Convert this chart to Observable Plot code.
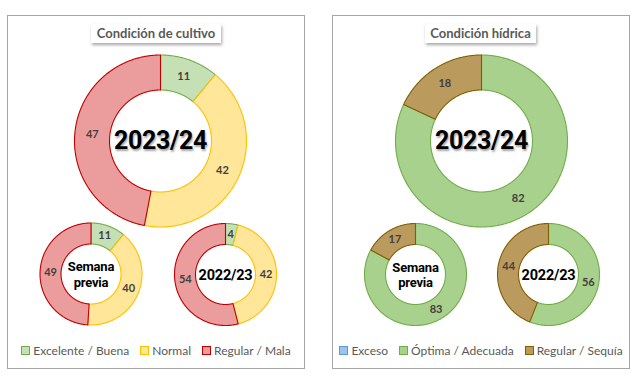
<!DOCTYPE html>
<html><head><meta charset="utf-8">
<script src="https://cdn.jsdelivr.net/npm/d3@7"></script>
<script src="https://cdn.jsdelivr.net/npm/@observablehq/plot@0.6"></script>
<style>
html,body{margin:0;padding:0;background:#fff;}
body{width:638px;height:377px;position:relative;overflow:hidden;font-family:Lato,"Open Sans",sans-serif;}
.panel{position:absolute;top:15px;width:296px;height:352px;border:1px solid #a6a6a6;background:#fff;}
.panel svg{position:absolute;left:0;top:0;}
.title{position:absolute;top:8px;height:19px;line-height:19px;background:#fff;color:#595959;font-weight:700;font-size:13px;text-align:center;box-shadow:1px 2px 3px rgba(0,0,0,0.35);white-space:nowrap;z-index:2;}
.legend{position:absolute;left:0;right:0;top:327px;display:flex;justify-content:center;gap:11px;font-size:12px;color:#595959;z-index:2;}
.legend span.item{display:flex;align-items:center;white-space:nowrap;}
.legend span.sw{display:inline-block;width:7px;height:7px;margin-right:3px;border:1px solid;}
.center-big{text-shadow:1px 2px 2px rgba(0,0,0,0.35);letter-spacing:-0.3px;}
.center-small{letter-spacing:-0.2px;}
</style>
</head><body>
<div id="p1" class="panel" style="left:7px"></div>
<div id="p2" class="panel" style="left:332px"></div>
<script>
// ---- data ----
const periods = ["2023/24", "Semana previa", "2022/23"];
const cultivoCats = ["Excelente / Buena", "Normal", "Regular / Mala"];
const cultivoExcelente = [11, 11, 4];
const cultivoNormal = [42, 40, 42];
const cultivoRegular = [47, 49, 54];
const hidricaCats = ["Exceso", "Óptima / Adecuada", "Regular / Sequía"];
const hidricaExceso = [0, 0, 0];
const hidricaOptima = [82, 83, 56];
const hidricaSequia = [18, 17, 44];

// ---- styles ----
const cultivoFill = ["#c5e0b4", "#ffe699", "#eb9c9c"];
const cultivoStroke = ["#70ad47", "#ffc000", "#c00000"];
const hidricaFill = ["#9dc3e6", "#a9d18e", "#bb9a5e"];
const hidricaStroke = ["#5b9bd5", "#70ad47", "#7f6000"];

const W = 296, H = 352;
// layout: donut centers and radii inside each panel (pixel units)
const layoutLeft = [
  {cx: 152, cy: 124.5, r0: 51, r1: 86, font: 25},
  {cx: 82.5, cy: 257.5, r0: 30, r1: 51, font: 13},
  {cx: 217, cy: 258, r0: 30, r1: 51, font: 14.5}
];
const layoutRight = [
  {cx: 148, cy: 124.5, r0: 51, r1: 86, font: 25},
  {cx: 82, cy: 258, r0: 30, r1: 51, font: 13},
  {cx: 215, cy: 258, r0: 30, r1: 51, font: 14.5}
];

function buildDonuts(series, layout) {
  const polys = [], labels = [], centers = [];
  periods.forEach((p, i) => {
    const L = layout[i];
    const vals = series.map(s => s[i]);
    const total = d3.sum(vals);
    let acc = 0;
    vals.forEach((v, k) => {
      const a0 = acc / total * 2 * Math.PI;
      acc += v;
      const a1 = acc / total * 2 * Math.PI;
      if (v <= 0) return;
      const n = Math.max(2, Math.ceil((a1 - a0) / 0.01));
      const id = p + "-" + k;
      for (let j = 0; j <= n; j++) {
        const a = a0 + (a1 - a0) * j / n;
        polys.push({id, k, x: L.cx + L.r1 * Math.sin(a), y: L.cy - L.r1 * Math.cos(a)});
      }
      for (let j = n; j >= 0; j--) {
        const a = a0 + (a1 - a0) * j / n;
        polys.push({id, k, x: L.cx + L.r0 * Math.sin(a), y: L.cy - L.r0 * Math.cos(a)});
      }
      const am = (a0 + a1) / 2, rm = (L.r0 + L.r1) / 2;
      labels.push({x: L.cx + rm * Math.sin(am), y: L.cy - rm * Math.cos(am), text: String(v)});
    });
    centers.push({x: L.cx, y: L.cy, text: p === "Semana previa" ? "Semana\nprevia" : p, font: L.font, big: i === 0});
  });
  return {polys, labels, centers};
}

function panel(el, title, titleLeft, titleWidth, series, cats, fills, strokes, layout) {
  const {polys, labels, centers} = buildDonuts(series, layout);
  const plot = Plot.plot({
    width: W, height: H, margin: 0,
    x: {domain: [0, W], range: [0, W], axis: null},
    y: {domain: [0, H], range: [0, H], axis: null},
    marks: [
      Plot.line(polys, {x: "x", y: "y", z: "id", curve: "linear-closed",
        fill: d => fills[d.k], stroke: d => strokes[d.k], strokeWidth: 1.1}),
      Plot.text(labels, {x: "x", y: "y", text: "text", fill: "#404040",
        fontSize: 11, fontWeight: 700, fontFamily: "Lato"}),
      Plot.text(centers.filter(d => d.big), {x: "x", y: "y", text: "text", fill: "#000",
        fontSize: layout[0].font, fontWeight: 700, fontFamily: "Roboto", className: "center-big"}),
      Plot.text(centers.filter(d => !d.big), {x: "x", y: "y", text: "text", fill: "#000",
        fontSize: d => d.font, fontWeight: 700, fontFamily: "Roboto", lineHeight: 1.2, className: "center-small"})
    ]
  });
  el.appendChild(plot);
  const t = document.createElement("div");
  t.className = "title"; t.textContent = title;
  t.style.left = titleLeft + "px"; t.style.width = titleWidth + "px";
  el.appendChild(t);
  const lg = document.createElement("div");
  lg.className = "legend";
  cats.forEach((c, k) => {
    const it = document.createElement("span"); it.className = "item";
    const sw = document.createElement("span"); sw.className = "sw";
    sw.style.background = fills[k]; sw.style.borderColor = strokes[k];
    it.appendChild(sw); it.appendChild(document.createTextNode(c));
    lg.appendChild(it);
  });
  el.appendChild(lg);
}

panel(document.getElementById("p1"), "Condición de cultivo", 83, 130,
  [cultivoExcelente, cultivoNormal, cultivoRegular], cultivoCats, cultivoFill, cultivoStroke, layoutLeft);
panel(document.getElementById("p2"), "Condición hídrica", 92, 111,
  [hidricaExceso, hidricaOptima, hidricaSequia], hidricaCats, hidricaFill, hidricaStroke, layoutRight);
</script>
</body></html>
